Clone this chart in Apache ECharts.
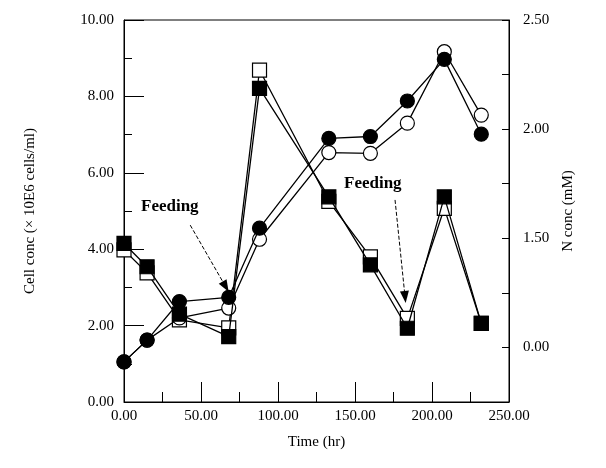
<!DOCTYPE html>
<html lang="en">
<head>
    <meta charset="UTF-8">
    <title>Cell conc vs time</title>
    <script src="https://cdn.jsdelivr.net/npm/echarts@6/dist/echarts.min.js"></script>
    <style>
        body { margin: 0; background-color: #fff; }
        #main { width: 606px; height: 468px; }
    </style>
</head>
<body>
    <div id="main"></div>
    <script type="text/javascript">
        // data
        var times = [0, 15, 36, 68, 88, 133, 160, 184, 208, 232];
        var filledCircles = [1.05, 1.62, 2.63, 2.74, 4.55, 6.90, 6.95, 7.88, 8.97, 7.01];
        var openCircles = [1.05, 1.62, 2.20, 2.46, 4.26, 6.53, 6.51, 7.30, 9.17, 7.51];
        var filledSquares = [4.15, 3.54, 2.30, 1.71, 8.21, 5.37, 3.59, 1.93, 5.37, 2.06];
        var openSquares = [3.98, 3.38, 2.15, 1.94, 8.69, 5.25, 3.80, 2.19, 5.07, 2.06];

        // right axis labels as printed
        var rightTickValues = [1.0, 1.5, 2.0, 2.5];
        var rightTickLabels = ['0.00', '1.50', '2.00', '2.50'];

        // feeding arrows: [start, end] in data coords
        var feedArrows = [
            [[43, 4.63], [66, 3.02]],
            [[176, 5.29], [182.5, 2.75]]
        ];

        function pairs(ys) {
            return times.map(function (t, i) { return [t, ys[i]]; });
        }

        var font = '"Liberation Serif", "DejaVu Serif", serif';

        var myChart = echarts.init(document.getElementById('main'));

        function lineSeries(name, ys, symbol, filled, z) {
            return {
                name: name,
                type: 'line',
                data: pairs(ys),
                symbol: symbol,
                symbolSize: 14,
                z: z,
                lineStyle: { color: '#000', width: 1.3 },
                itemStyle: {
                    color: filled ? '#000' : '#fff',
                    borderColor: '#000',
                    borderWidth: 1.2
                },
                emphasis: { disabled: true }
            };
        }

        var option = {
            animation: false,
            textStyle: { fontFamily: font },
            grid: {
                left: 124, right: 97, top: 20, bottom: 66,
                show: true, borderColor: '#000', borderWidth: 1
            },
            xAxis: {
                type: 'value',
                min: 0, max: 250, interval: 50,
                name: 'Time (hr)',
                nameLocation: 'middle',
                nameGap: 33,
                nameTextStyle: { color: '#000', fontSize: 15, fontFamily: font },
                axisLine: { lineStyle: { color: '#000' } },
                axisTick: { inside: true, length: 20, lineStyle: { color: '#000' } },
                minorTick: { show: true, splitNumber: 2, length: 10, lineStyle: { color: '#000' } },
                splitLine: { show: false },
                axisLabel: {
                    color: '#000', fontSize: 15, fontFamily: font, margin: 7,
                    formatter: function (v) { return v.toFixed(2); }
                }
            },
            yAxis: [{
                type: 'value',
                min: 0, max: 10, interval: 2,
                name: 'Cell conc (\u00d7 10E6 cells/ml)',
                nameLocation: 'middle',
                nameGap: 86,
                nameTextStyle: { color: '#000', fontSize: 15, fontFamily: font },
                axisLine: { show: true, lineStyle: { color: '#000' } },
                axisTick: { show: true, inside: true, length: 20, lineStyle: { color: '#000' } },
                minorTick: { show: true, splitNumber: 2, length: 8, lineStyle: { color: '#000' } },
                splitLine: { show: false },
                axisLabel: {
                    color: '#000', fontSize: 15, fontFamily: font, margin: 10,
                    formatter: function (v) { return v.toFixed(2); }
                }
            }, {
                type: 'value',
                position: 'right',
                min: 0.75, max: 2.5, interval: 0.25,
                name: 'N conc (mM)',
                nameLocation: 'middle',
                nameRotate: 90,
                nameGap: 44,
                nameTextStyle: { color: '#000', fontSize: 15, fontFamily: font },
                axisLine: { show: true, lineStyle: { color: '#000' } },
                axisTick: { show: true, inside: true, length: 7, lineStyle: { color: '#000' } },
                splitLine: { show: false },
                axisLabel: {
                    color: '#000', fontSize: 15, fontFamily: font, margin: 14,
                    formatter: function (v) {
                        for (var i = 0; i < rightTickValues.length; i++) {
                            if (Math.abs(v - rightTickValues[i]) < 1e-6) return rightTickLabels[i];
                        }
                        return '';
                    }
                }
            }],
            series: [
                lineSeries('open squares', openSquares, 'rect', false, 2),
                lineSeries('open circles', openCircles, 'circle', false, 3),
                lineSeries('filled squares', filledSquares, 'rect', true, 4),
                lineSeries('filled circles', filledCircles, 'circle', true, 5),
                {
                    type: 'line',
                    data: [],
                    markLine: {
                        silent: true,
                        symbol: ['none', 'triangle'],
                        symbolSize: [9, 12],
                        label: { show: false },
                        lineStyle: { color: '#000', type: 'dashed', width: 1 },
                        data: feedArrows.map(function (a) {
                            return [{ coord: a[0] }, { coord: a[1] }];
                        })
                    }
                }
            ],
            graphic: [
                {
                    type: 'text', left: 141, top: 198,
                    style: { text: 'Feeding', font: 'bold 17px ' + font, fill: '#000' }
                },
                {
                    type: 'text', left: 344, top: 175,
                    style: { text: 'Feeding', font: 'bold 17px ' + font, fill: '#000' }
                }
            ]
        };

        myChart.setOption(option);
    </script>
</body>
</html>
